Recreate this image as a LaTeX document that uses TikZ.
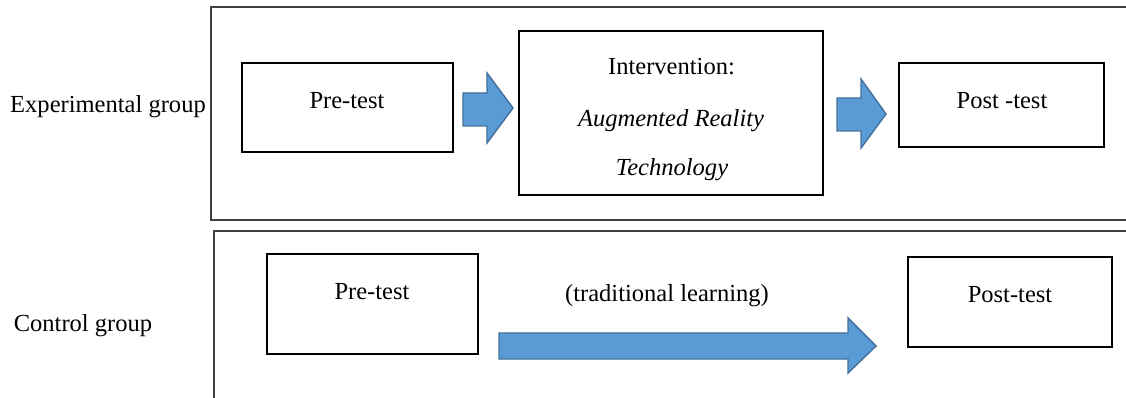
\documentclass[tikz,border=0pt]{standalone}
\usepackage{fontspec}
\setmainfont{Liberation Serif}
\tikzset{every picture/.style={line width=0.75pt}}

\begin{document}
\begin{tikzpicture}[x=0.75pt,y=0.75pt,yscale=-1,xscale=1,
	frame/.style={draw={rgb, 255:red, 64; green, 64; blue, 64 }, line width=1.1},
	box/.style={draw=black, line width=1},
	blockarrow/.style={draw={rgb, 255:red, 65; green, 113; blue, 156 }, fill={rgb, 255:red, 91; green, 155; blue, 213 }, line width=1.1},
	txt/.style={anchor=base, inner sep=0.75pt, font=\fontsize{18.4}{22}\selectfont}]
	%set diagram left start at 0, and has height of 398
	\useasboundingbox (0,0) rectangle (1126,398);

	%Group frames
	\draw [frame]    (1130,7) -- (211,7) -- (211,220) -- (1130,220) ;
	\draw [frame]    (1130,231) -- (214,231) -- (214,402) ;

	%Shape: Rectangle
	\draw [box]    (242,63) -- (453,63) -- (453,152) -- (242,152) -- cycle ;
	%Shape: Rectangle
	\draw [box]    (519,31) -- (823,31) -- (823,195) -- (519,195) -- cycle ;
	%Shape: Rectangle
	\draw [box]    (899,63) -- (1104,63) -- (1104,147) -- (899,147) -- cycle ;
	%Shape: Rectangle
	\draw [box]    (267,254) -- (478,254) -- (478,354) -- (267,354) -- cycle ;
	%Shape: Rectangle
	\draw [box]    (908,257) -- (1112,257) -- (1112,347) -- (908,347) -- cycle ;

	%Right Arrow
	\draw [blockarrow]   (463,93) -- (487,93) -- (487,73) -- (513,108) -- (487,143) -- (487,126) -- (463,126) -- cycle ;
	%Right Arrow
	\draw [blockarrow]   (837,98) -- (861,98) -- (861,79) -- (886,114) -- (861,148) -- (861,131) -- (837,131) -- cycle ;
	%Right Arrow
	\draw [blockarrow]   (499,333) -- (848,333) -- (848,318) -- (876,346) -- (848,373) -- (848,359) -- (499,359) -- cycle ;

	% Text Node
	\draw (108,113) node [txt] (expGroup) {Experimental group};
	% Text Node
	\draw (83,332) node [txt] (ctlGroup) {Control group};
	% Text Node
	\draw (347,109) node [txt] (expPre) {Pre-test};
	% Text Node
	\draw (671.5,75) node [txt] (expInt) {Intervention:};
	% Text Node
	\draw (671,127) node [txt] (expAR) {\itshape Augmented Reality};
	% Text Node
	\draw (672,176) node [txt] (expTech) {\itshape Technology};
	% Text Node
	\draw (1002,109) node [txt] (expPost) {Post -test};
	% Text Node
	\draw (372,300) node [txt] (ctlPre) {Pre-test};
	% Text Node
	\draw (667,302) node [txt] (ctlTrad) {(traditional learning)};
	% Text Node
	\draw (1010,303) node [txt] (ctlPost) {Post-test};

\end{tikzpicture}
\end{document}
